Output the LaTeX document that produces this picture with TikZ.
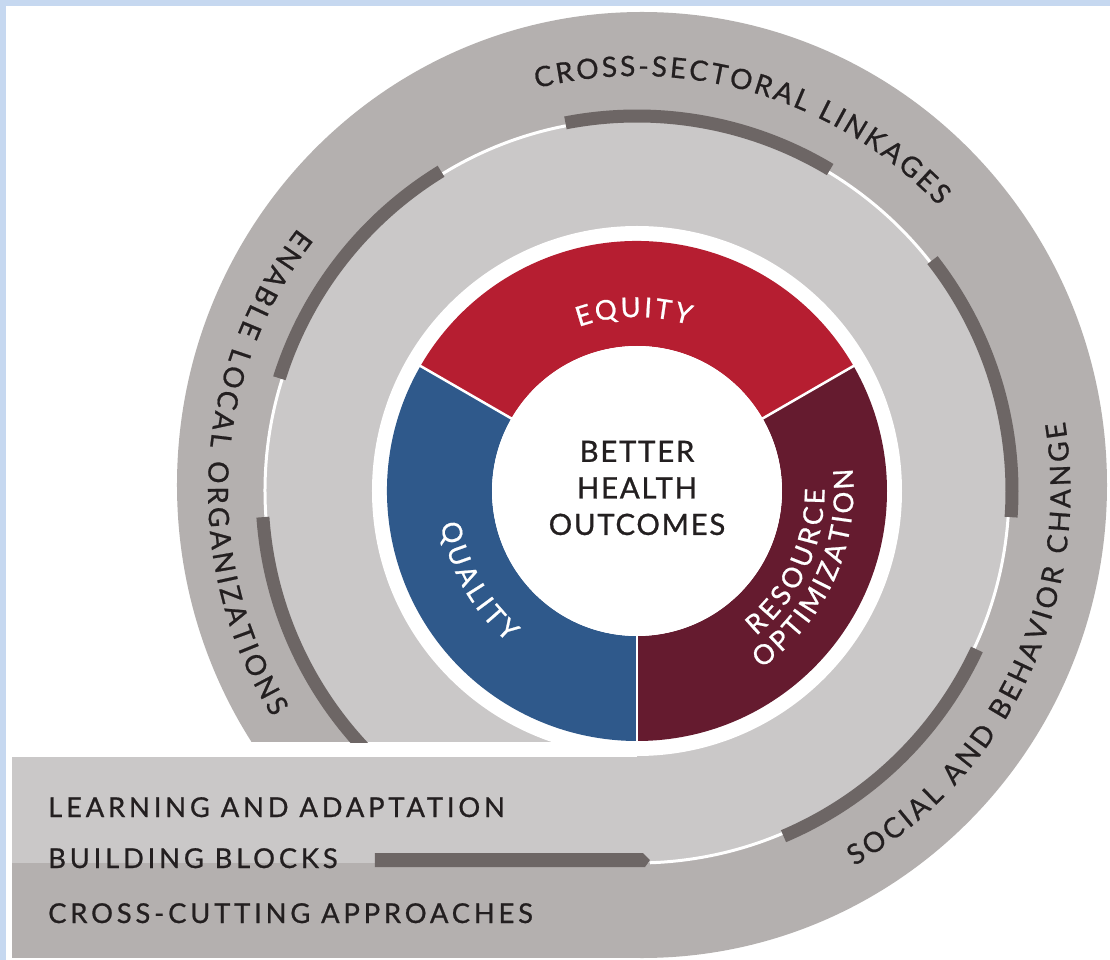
\documentclass[tikz,border=0pt]{standalone}
\usepackage{fontspec}
\setmainfont{Lato}
\newfontfamily\arcfont[FakeBold=0.8]{Lato}
\newfontfamily\hubfont[LetterSpace=6,FakeBold=0.9]{Lato}
\newfontfamily\bandfont[LetterSpace=14,FakeBold=0.8]{Lato}
\usetikzlibrary{decorations.text}

\definecolor{framebl}{RGB}{198,216,240}
\definecolor{ringdark}{RGB}{180,176,175}
\definecolor{ringlight}{RGB}{202,200,200}
\definecolor{tabgrey}{RGB}{109,102,101}
\definecolor{eqred}{RGB}{182,30,49}
\definecolor{qblue}{RGB}{47,89,139}
\definecolor{resmaroon}{RGB}{101,27,47}
\definecolor{ink}{RGB}{35,31,32}

\begin{document}
\begin{tikzpicture}[x=0.75pt,y=0.75pt,
    tabarc/.style={tabgrey,line width=9.75pt},
    ringlbl/.style={decorate,decoration={text along path,text align=fit to path,
        text color=ink,text={|\arcfont\fontsize{21}{21}\selectfont|#1}}},
    donutlbl/.style={decorate,decoration={text along path,text align=fit to path,
        text color=white,text={|\arcfont\fontsize{20.5}{21}\selectfont|#1}}},
    hubtext/.style={align=center,text=ink,inner sep=0pt,font=\hubfont\fontsize{22}{27.4}\selectfont},
    bandtext/.style={anchor=base west,text=ink,inner sep=0pt,font=\bandfont\fontsize{20.5}{21}\selectfont}]
    \useasboundingbox (-637,-469) rectangle (473,491);
    \fill[framebl] (-637,-469) rectangle (473,491);
    \fill[white] (-631,-469) rectangle (473,485);

    % outer band and bottom strips
    \fill[ringdark] (5,6) ellipse[x radius=465,y radius=473];
    \fill[ringdark] (-625,-467) rectangle (0,-300);
    \fill[ringlight] (0,0) circle[radius=372];
    \fill[ringlight] (-625,-372) rectangle (0,-266);
    \fill[white] (0,0) circle[radius=265];
    \fill[white] (-631,-266) rectangle (0,-251);
    \draw[white,line width=2.25pt] (-88:372) arc[start angle=-88,end angle=222,radius=372];

    % tabs
    \foreach \a/\b in {101/59,121.5/162.5,38/-4,-25/-67}
        \draw[tabarc] (\a:375) arc[start angle=\a,end angle=\b,radius=375];
    \begin{scope}
        \clip (-631,-251) rectangle (640,480);
        \draw[tabarc] (184:375) arc[start angle=184,end angle=232,radius=375];
    \end{scope}
    \fill[tabgrey] (-262,-362) -- (6,-362) -- (13,-369) -- (8,-376) -- (-262,-376) -- cycle;

    % donut
    \foreach \a/\c in {30/eqred,150/qblue,270/resmaroon}
        \fill[\c] (\a:250) arc[start angle=\a,delta angle=120,radius=250]
            -- ({\a+120}:145) arc[start angle={\a+120},delta angle=-120,radius=145] -- cycle;
    \foreach \a in {30,150,270}
        \draw[white,line width=1.9pt] (\a:140) -- (\a:252);
    \fill[white] (0,0) circle[radius=145];

    \node[hubtext] (better) at (0,3) {BETTER\\HEALTH\\OUTCOMES};

    \path[donutlbl={EQUITY}] (109.5:174) arc[start angle=109.5,end angle=72.5,radius=174];
    \path[donutlbl={QUALITY}] (189.5:199) arc[start angle=189.5,end angle=229.5,radius=199];
    \path[donutlbl={RESOURCE}] (-50.6:187.5) arc[start angle=-50.6,end angle=0.7,radius=187.5];
    \path[donutlbl={OPTIMIZATION}] (-55:216.5) arc[start angle=-55,end angle=6,radius=216.5];

    \path[ringlbl={CROSS-SECTORAL LINKAGES}] (104:415) arc[start angle=104,end angle=43.4,radius=415];
    \path[ringlbl={ENABLE LOCAL ORGANIZATIONS}] (142.2:429) arc[start angle=142.2,end angle=211.8,radius=429];
    \path[ringlbl={SOCIAL AND BEHAVIOR CHANGE}] (-59.9:433.5) arc[start angle=-59.9,end angle=9.2,radius=433.5];

    \node[bandtext] (learning) at (-589,-326) {LEARNING AND ADAPTATION};
    \node[bandtext] (blocks) at (-589,-377) {BUILDING BLOCKS};
    \node[bandtext] (crosscut) at (-589,-432) {CROSS-CUTTING APPROACHES};
\end{tikzpicture}
\end{document}
